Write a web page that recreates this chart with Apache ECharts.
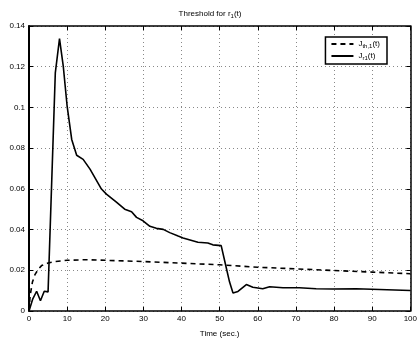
<!DOCTYPE html>
<html>
<head>
<meta charset="utf-8">
<script src="https://cdn.jsdelivr.net/npm/echarts@6/dist/echarts.min.js"></script>
<style>
  html, body { margin: 0; padding: 0; background: #fff; }
  #chart { width: 420px; height: 343px; }
</style>
</head>
<body>
<div id="chart"></div>
<script>
// threshold curve J_th,1(t): [time, value]
const thresholdData = [
  [0, 0.0], [0.3, 0.0076], [0.9, 0.0142], [1.6, 0.018], [2.4, 0.0204], [3.3, 0.0223],
  [5, 0.0236], [6.8, 0.0243], [10, 0.0249], [15, 0.0252], [20, 0.0249], [30, 0.0243],
  [40, 0.0235], [50, 0.0227], [60, 0.0215], [70, 0.0207], [80, 0.0199], [90, 0.0191],
  [100, 0.0183]
];
// residual evaluation J_r1(t): [time, value]
const residualData = [
  [0, 0.0], [1, 0.006], [2, 0.0097], [3, 0.005], [4, 0.0097], [5, 0.0094], [5.4, 0.0096],
  [6.9, 0.117], [8, 0.1338], [9, 0.12], [10, 0.1006], [11.2, 0.0843], [12.5, 0.0765],
  [14.2, 0.0745], [16, 0.0697], [19, 0.0599], [20.3, 0.0574], [23, 0.0534], [25.1, 0.050],
  [26.9, 0.0488], [28.2, 0.046], [29.9, 0.0443], [31.7, 0.0416], [33.4, 0.0406],
  [35.2, 0.0401], [36.9, 0.0385], [39.1, 0.0368], [40.4, 0.0359], [44.3, 0.0338],
  [46.9, 0.0334], [48.2, 0.0325], [50.4, 0.0321], [51.7, 0.0215], [52.6, 0.0142],
  [53.5, 0.0088], [54.8, 0.0096], [57, 0.013], [58.7, 0.0117], [61.3, 0.0109],
  [63.1, 0.0119], [66.6, 0.0114], [70.9, 0.0114], [75.3, 0.0109], [79.6, 0.0108],
  [85.8, 0.0109], [100, 0.0101]
];
const xTicks = [0, 10, 20, 30, 40, 50, 60, 70, 80, 90, 100];
const yTicks = [0, 0.02, 0.04, 0.06, 0.08, 0.1, 0.12, 0.14];

const chart = echarts.init(document.getElementById('chart'));
const font = 'Liberation Sans, Arial, sans-serif';

const rich = {
  sub: { fontSize: 6, fontWeight: 'normal', verticalAlign: 'bottom', padding: [4, 0, 0, 0], fontFamily: font, color: '#000' },
  base: { fontSize: 8, fontWeight: 'normal', fontFamily: font, color: '#000' }
};

const option = {
  animation: false,
  backgroundColor: '#fff',
  title: {
    text: '{base|Threshold for r}{sub|1}{base|(t)}',
    left: 'center',
    top: 4,
    textStyle: { fontWeight: 'normal', rich: rich }
  },
  legend: {
    right: 33,
    top: 37,
    orient: 'vertical',
    itemWidth: 22,
    itemHeight: 8,
    itemGap: 3,
    padding: [3, 7, 3, 5],
    borderColor: '#000',
    borderWidth: 1.5,
    backgroundColor: '#fff',
    itemStyle: { opacity: 0 },
    formatter: function (name) {
      return name === 'th' ? '{base|J}{sub|th,1}{base|(t)}' : '{base|J}{sub|r1}{base|(t)}';
    },
    textStyle: { rich: rich },
    data: ['th', 'r1']
  },
  grid: { left: 29, right: 9, top: 26, bottom: 31 },
  xAxis: [{
    type: 'value', min: xTicks[0], max: xTicks[xTicks.length - 1], interval: 10,
    name: 'Time (sec.)', nameLocation: 'middle', nameGap: 19,
    nameTextStyle: { fontSize: 8, fontFamily: font, color: '#000' },
    axisLine: { lineStyle: { color: '#000', width: 1.5 } },
    axisTick: { inside: true, length: 4, lineStyle: { color: '#000' } },
    axisLabel: { fontSize: 8, fontFamily: font, color: '#000', margin: 4 },
    splitLine: { show: true, lineStyle: { color: '#888', type: [1, 3], width: 1 } }
  }, {
    type: 'value', position: 'top', min: 0, max: 100, interval: 10,
    axisLine: { show: true, onZero: false, lineStyle: { color: '#000', width: 1.5 } },
    axisTick: { inside: true, length: 4, lineStyle: { color: '#000' } },
    axisLabel: { show: false }, splitLine: { show: false }
  }],
  yAxis: [{
    type: 'value', min: yTicks[0], max: yTicks[yTicks.length - 1], interval: 0.02,
    axisLine: { show: true, lineStyle: { color: '#000', width: 2 } },
    axisTick: { inside: true, length: 4, lineStyle: { color: '#000' } },
    axisLabel: { fontSize: 8, fontFamily: font, color: '#000', margin: 4,
      formatter: v => String(+v.toFixed(2)) },
    splitLine: { show: true, lineStyle: { color: '#888', type: [1, 3], width: 1 } }
  }, {
    type: 'value', position: 'right', min: 0, max: 0.14, interval: 0.02,
    axisLine: { show: true, onZero: false, lineStyle: { color: '#000', width: 1.5 } },
    axisTick: { inside: true, length: 4, lineStyle: { color: '#000' } },
    axisLabel: { show: false }, splitLine: { show: false }
  }],
  series: [{
    name: 'th', type: 'line', data: thresholdData, symbol: 'none', smooth: false,
    lineStyle: { color: '#000', width: 1.6, type: [5, 4] },
    itemStyle: { color: '#000' }
  }, {
    name: 'r1', type: 'line', data: residualData, symbol: 'none', smooth: false,
    lineStyle: { color: '#000', width: 1.6 },
    itemStyle: { color: '#000' }
  }]
};

chart.setOption(option);
</script>
</body>
</html>
